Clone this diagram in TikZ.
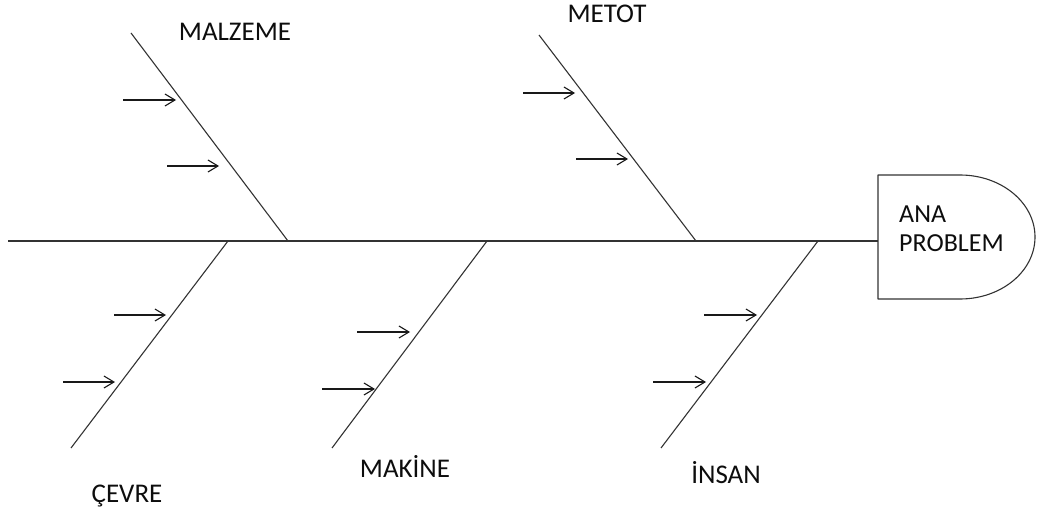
\documentclass[tikz,border=0pt]{standalone}
\usepackage{fontspec}
\setmainfont{Carlito}
\usetikzlibrary{arrows.meta}
\begin{document}
\begin{tikzpicture}[x=1pt,y=-1pt,
  bone/.style={draw=black!80,line width=1.1pt},
  smallarrow/.style={draw=black!90,line width=1.1pt,-{Straight Barb[length=10pt,width=12pt,line width=1.1pt]}},
  lbl/.style={inner sep=0pt,anchor=base,text=black!95,font=\fontsize{27}{29}\selectfont}]
\useasboundingbox (0,0) rectangle (1038,513);
% box
\coordinate (boxW) at (878,241);
\draw[bone,line join=round] (878,175) -- (960,175) arc[start angle=-90,end angle=90,x radius=75,y radius=62] -- (878,299) -- cycle;
\node[inner sep=0pt,anchor=north west,align=left,text=black!95,font=\fontsize{26}{29}\selectfont] (prob) at (899,206) {ANA\\PROBLEM};
% spine
\coordinate (tail) at (8,241);
\draw[bone] (tail) -- (boxW);
% bone coordinates
\coordinate (mzT) at (131,33);  \coordinate (mzB) at (288,241);
\coordinate (mtT) at (539,35);  \coordinate (mtB) at (696,241);
\coordinate (cvT) at (228,241); \coordinate (cvB) at (71,448);
\coordinate (mkT) at (487,241); \coordinate (mkB) at (332,448);
\coordinate (inT) at (818,241); \coordinate (inB) at (661,448);
\draw[bone] (mzT) -- (mzB);
\draw[bone] (mtT) -- (mtB);
\draw[bone] (cvT) -- (cvB);
\draw[bone] (mkT) -- (mkB);
\draw[bone] (inT) -- (inB);
% labels
\node[lbl] (malzeme) at (235,41) {MALZEME};
\node[lbl] (metot) at (607,23) {METOT};
\node[lbl] (cevre) at (127,502) {ÇEVRE};
\node[lbl] (makine) at (405,477) {MAKİNE};
\node[lbl] (insan) at (726,483) {İNSAN};
% small arrows
\coordinate (a1s) at (123,100); \coordinate (a1e) at (176,100);
\coordinate (a2s) at (167,166); \coordinate (a2e) at (219,166);
\coordinate (a3s) at (523,93);  \coordinate (a3e) at (575,93);
\coordinate (a4s) at (576,159); \coordinate (a4e) at (628,159);
\coordinate (a5s) at (114,315); \coordinate (a5e) at (166,315);
\coordinate (a6s) at (63,382);  \coordinate (a6e) at (115,382);
\coordinate (a7s) at (357,332); \coordinate (a7e) at (410,332);
\coordinate (a8s) at (322,389); \coordinate (a8e) at (375,389);
\coordinate (a9s) at (704,315); \coordinate (a9e) at (757,315);
\coordinate (a10s) at (653,382); \coordinate (a10e) at (706,382);
\foreach \i in {1,...,10} {\draw[smallarrow] (a\i s) -- (a\i e);}
\end{tikzpicture}
\end{document}
